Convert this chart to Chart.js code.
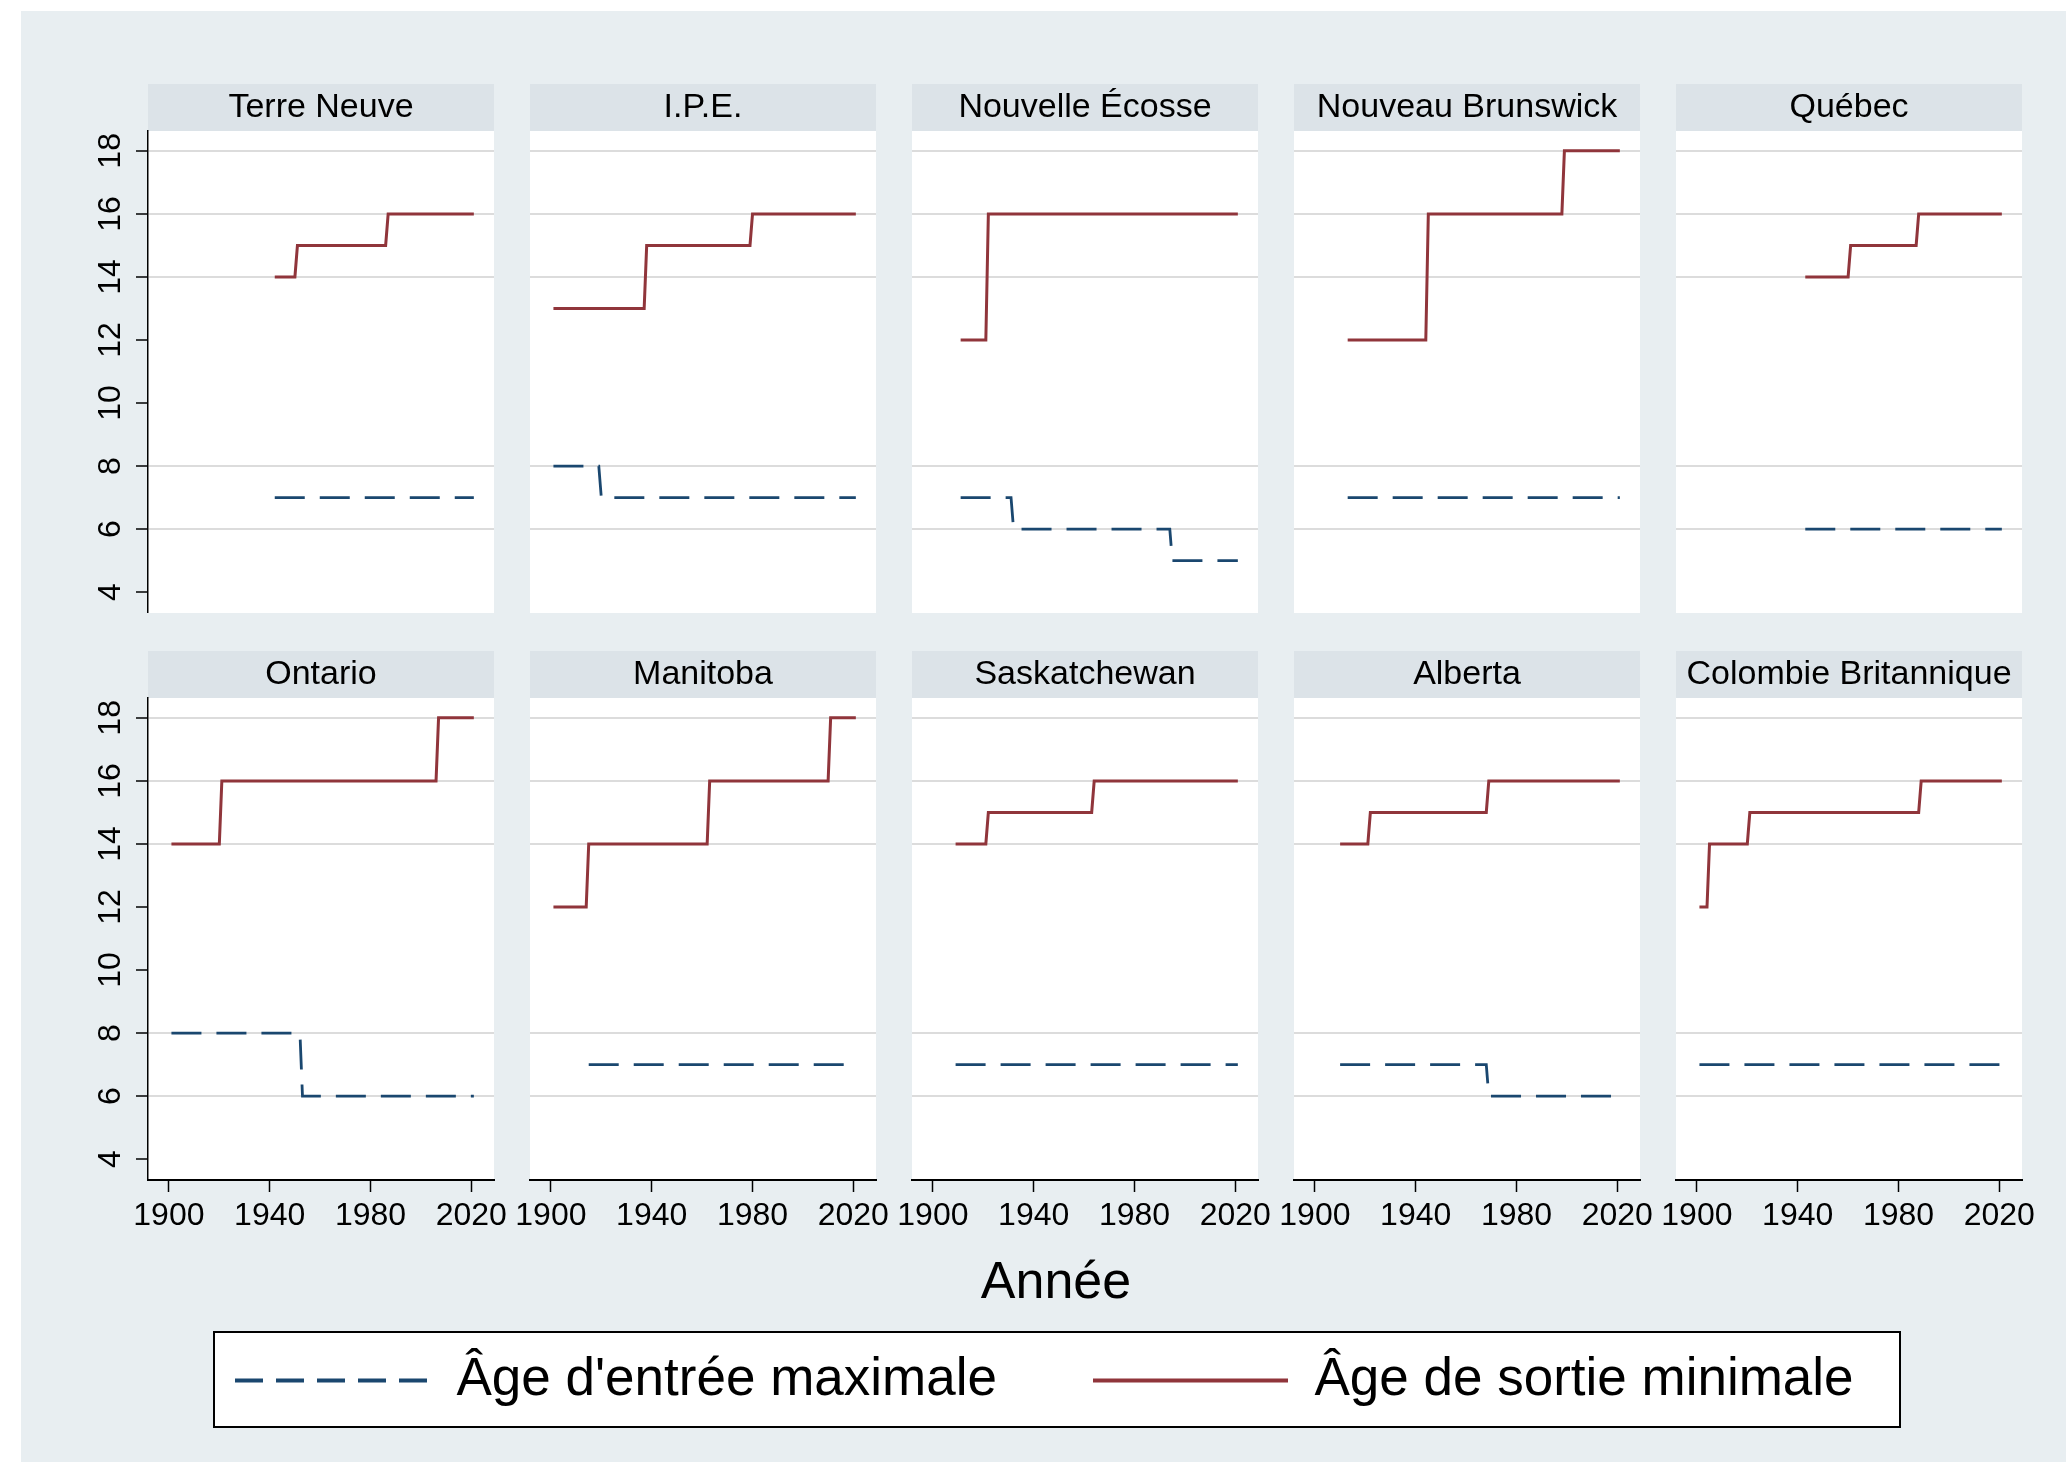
<!DOCTYPE html>
<html>
<head>
<meta charset="utf-8">
<script src="https://cdn.jsdelivr.net/npm/chart.js@4.4.1/dist/chart.umd.min.js"></script>
<style>
  html, body { margin: 0; padding: 0; background: #ffffff; width: 2066px; height: 1468px; overflow: hidden; }
  #region { position: absolute; left: 21px; top: 11px; width: 2045px; height: 1451px; background: #E8EEF1; }
  canvas { position: absolute; }
  #xtitle { position: absolute; left: 556px; width: 1000px; top: 1253px; text-align: center;
            font-family: 'Liberation Sans', Arial, Helvetica, sans-serif; font-size: 52px; line-height: 54px; color: #000; }
  #legbox { position: absolute; left: 213px; top: 1331px; width: 1688px; height: 97px; box-sizing: border-box;
            background: #ffffff; border: 2px solid #000; }
</style>
</head>
<body>
<div id="region"></div>
<div id="xtitle">Année</div>
<div id="legbox"></div>
<script>
// ---------------- DATA ----------------
const provinces = ['Terre Neuve', 'I.P.E.', 'Nouvelle Écosse', 'Nouveau Brunswick', 'Québec',
                   'Ontario', 'Manitoba', 'Saskatchewan', 'Alberta', 'Colombie Britannique'];

// Âge d'entrée maximale : années de changement et âges
const entreeAnnees = [
  [1942, 2021],
  [1901, 1919, 1920, 2021],
  [1911, 1931, 1932, 1994, 1995, 2021],
  [1913, 2021],
  [1943, 2021],
  [1901, 1952, 1953, 2021],
  [1915, 2021],
  [1909, 2021],
  [1910, 1968, 1969, 2021],
  [1901, 2021]
];
const entreeAges = [
  [7, 7],
  [8, 8, 7, 7],
  [7, 7, 6, 6, 5, 5],
  [7, 7],
  [6, 6],
  [8, 8, 6, 6],
  [7, 7],
  [7, 7],
  [7, 7, 6, 6],
  [7, 7]
];

// Âge de sortie minimale : années de changement et âges
const sortieAnnees = [
  [1942, 1950, 1951, 1986, 1987, 2021],
  [1901, 1937, 1938, 1979, 1980, 2021],
  [1911, 1921, 1922, 2021],
  [1913, 1944, 1945, 1998, 1999, 2021],
  [1943, 1960, 1961, 1987, 1988, 2021],
  [1901, 1920, 1921, 2006, 2007, 2021],
  [1901, 1914, 1915, 1962, 1963, 2010, 2011, 2021],
  [1909, 1921, 1922, 1963, 1964, 2021],
  [1910, 1921, 1922, 1968, 1969, 2021],
  [1901, 1904, 1905, 1920, 1921, 1988, 1989, 2021]
];
const sortieAges = [
  [14, 14, 15, 15, 16, 16],
  [13, 13, 15, 15, 16, 16],
  [12, 12, 16, 16],
  [12, 12, 16, 16, 18, 18],
  [14, 14, 15, 15, 16, 16],
  [14, 14, 16, 16, 18, 18],
  [12, 12, 14, 14, 16, 16, 18, 18],
  [14, 14, 15, 15, 16, 16],
  [14, 14, 15, 15, 16, 16],
  [12, 12, 14, 14, 15, 15, 16, 16]
];

const seriesLabels = ["Âge d'entrée maximale", "Âge de sortie minimale"];
const xTicks = [1900, 1940, 1980, 2020];
const yTicks = [4, 6, 8, 10, 12, 14, 16, 18];
const yGridValues = [6, 8, 14, 16, 18];
const xRange = [1891.7, 2029];
const yRange = [3.34, 18.63];

// ---------------- STYLE / LAYOUT ----------------
const FONT = "'Liberation Sans', Arial, Helvetica, sans-serif";
const BLUE = '#1A476F';
const RED = '#90353B';
const HEADER_BG = '#DCE3E8';
const GRID = '#DCDCDC';
const colLeft = [148, 530, 912, 1294, 1676];
const rowTop = [84, 651];
const PANEL_W = 346, HEADER_H = 47, PLOT_H = 482, AXIS_W = 88, SIDE_PAD = 20, XAXIS_H = 70;

Chart.defaults.font.family = FONT;
Chart.defaults.color = '#000';

const panelPlugin = {
  id: 'panelPlugin',
  beforeDraw(chart) {
    const a = chart.chartArea, ctx = chart.ctx;
    ctx.save();
    ctx.fillStyle = HEADER_BG;
    ctx.fillRect(a.left, a.top - HEADER_H, a.right - a.left, HEADER_H);
    ctx.fillStyle = '#ffffff';
    ctx.fillRect(a.left, a.top, a.right - a.left, a.bottom - a.top);
    ctx.restore();
  }
};

function toPoints(xs, ys) { return xs.map((x, i) => ({ x: x, y: ys[i] })); }

function makePanel(i) {
  const row = Math.floor(i / 5), col = i % 5;
  const firstCol = col === 0, bottomRow = row === 1;
  const leftExtra = firstCol ? AXIS_W : SIDE_PAD;
  const W = leftExtra + PANEL_W + SIDE_PAD;
  const H = HEADER_H + PLOT_H + (bottomRow ? XAXIS_H : 0);
  const cv = document.createElement('canvas');
  cv.width = W; cv.height = H;
  cv.style.width = W + 'px'; cv.style.height = H + 'px';
  cv.style.left = (colLeft[col] - leftExtra) + 'px';
  cv.style.top = rowTop[row] + 'px';
  document.body.appendChild(cv);

  new Chart(cv, {
    type: 'line',
    data: {
      datasets: [
        { label: seriesLabels[0], data: toPoints(entreeAnnees[i], entreeAges[i]),
          borderColor: BLUE, borderWidth: 2.8, borderDash: [30, 15], pointRadius: 0, fill: false, tension: 0 },
        { label: seriesLabels[1], data: toPoints(sortieAnnees[i], sortieAges[i]),
          borderColor: RED, borderWidth: 3, pointRadius: 0, fill: false, tension: 0 }
      ]
    },
    options: {
      responsive: false, animation: false, devicePixelRatio: 1,
      layout: { padding: { left: firstCol ? 0 : SIDE_PAD, right: SIDE_PAD, top: 0, bottom: 0 } },
      plugins: {
        legend: { display: false },
        tooltip: { enabled: false },
        title: { display: true, text: provinces[i], fullSize: false, color: '#000',
                 font: { family: FONT, size: 34, weight: 'normal', lineHeight: 1.2 },
                 padding: { top: 3, bottom: 3.2 } }
      },
      scales: {
        x: {
          type: 'linear', min: xRange[0], max: xRange[1], display: bottomRow,
          afterBuildTicks: s => { s.ticks = xTicks.map(v => ({ value: v })); },
          afterFit: s => { s.height = bottomRow ? XAXIS_H : 0; s.paddingLeft = 0; s.paddingRight = 0; },
          grid: { display: true, drawOnChartArea: false, drawTicks: true, tickLength: 12, tickColor: '#000', tickWidth: 1.5 },
          border: { display: true, color: '#000', width: 2 },
          ticks: { color: '#000', font: { family: FONT, size: 32 }, padding: 5, maxRotation: 0, autoSkip: false,
                   callback: v => String(v) }
        },
        y: {
          type: 'linear', min: yRange[0], max: yRange[1], display: true,
          afterBuildTicks: s => { s.ticks = yTicks.map(v => ({ value: v })); },
          afterFit: s => { s.width = firstCol ? AXIS_W : 0; s.paddingTop = 0; s.paddingBottom = 0; },
          grid: { display: true, drawOnChartArea: true, drawTicks: firstCol, tickLength: 12, tickColor: '#000', tickWidth: 1.5,
                  lineWidth: 2,
                  color: c => (c.tick && yGridValues.includes(c.tick.value)) ? GRID : 'rgba(0,0,0,0)' },
          border: { display: firstCol, color: '#000', width: 1.5 },
          ticks: { display: firstCol, color: '#000', font: { family: FONT, size: 32 }, minRotation: 90, maxRotation: 90,
                   crossAlign: 'center', padding: 7, autoSkip: false, callback: v => String(v) }
        }
      }
    },
    plugins: [panelPlugin]
  });
}

for (let i = 0; i < provinces.length; i++) makePanel(i);

// ---------------- LEGEND ----------------
const legendItemX = [235, 1093];
const legendStyles = [
  { color: BLUE, dash: [28, 13] },
  { color: RED, dash: [] }
];
function makeLegend(k) {
  const cv = document.createElement('canvas');
  const W = 800, H = 240;
  cv.width = W; cv.height = H;
  cv.style.width = W + 'px'; cv.style.height = H + 'px';
  cv.style.left = (legendItemX[k] - 22) + 'px';
  cv.style.top = '1332px';
  document.body.appendChild(cv);
  new Chart(cv, {
    type: 'line',
    data: { datasets: [{ label: seriesLabels[k], data: [], borderColor: legendStyles[k].color, borderDash: legendStyles[k].dash }] },
    options: {
      responsive: false, animation: false, devicePixelRatio: 1,
      layout: { padding: 0 },
      scales: { x: { display: false }, y: { display: false } },
      plugins: {
        tooltip: { enabled: false },
        legend: {
          display: true, position: 'top', align: 'start',
          labels: {
            usePointStyle: true, pointStyle: 'line', pointStyleWidth: 195, padding: 22, color: '#000',
            font: { family: FONT, size: 53 },
            generateLabels: () => [{
              text: seriesLabels[k], fillStyle: legendStyles[k].color, strokeStyle: legendStyles[k].color,
              lineWidth: 4, lineDash: legendStyles[k].dash, lineCap: 'butt', pointStyle: 'line',
              hidden: false, datasetIndex: 0, fontColor: '#000'
            }]
          }
        }
      }
    }
  });
}
makeLegend(0);
makeLegend(1);
</script>
</body>
</html>
